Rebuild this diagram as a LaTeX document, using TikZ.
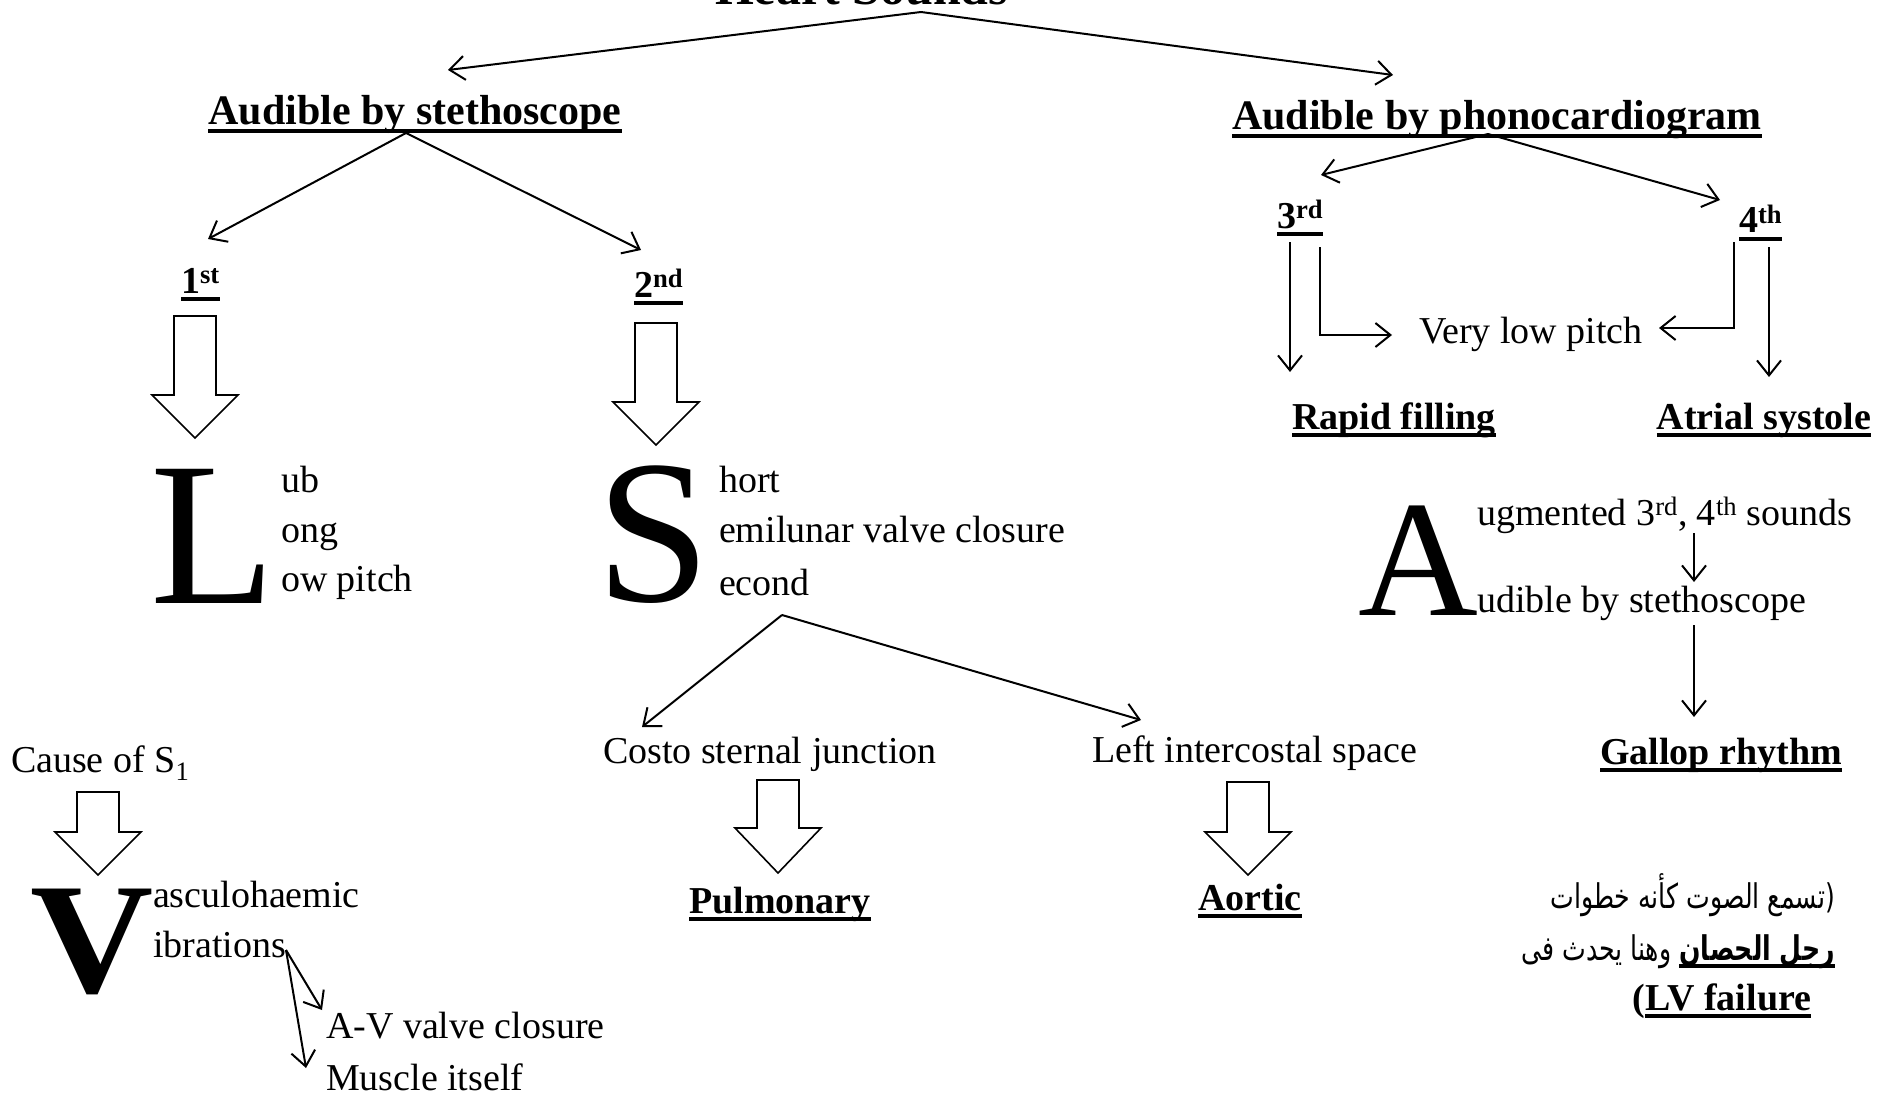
\documentclass[tikz,border=0pt]{standalone}
\usepackage{fontspec}
\setmainfont{Liberation Serif}
\newfontfamily\arabicfont[Script=Arabic, FakeStretch=0.74]{DejaVu Sans}
\TeXXeTstate=1
\usetikzlibrary{arrows.meta}

% underline drawn as a rule under a box
\newsavebox{\ulsave}
\newcommand{\ulbox}[1]{\sbox{\ulsave}{#1}\rlap{\rule[-8pt]{\wd\ulsave}{3.6pt}}\usebox{\ulsave}}

% hollow block arrow pointing down: x, shaft top, shoulder, tip
\newcommand{\hollowdown}[4]{%
  \draw[hollow] ({#1-21},#2) -- ({#1+21},#2) -- ({#1+21},#3) -- ({#1+43},#3)
    -- (#1,#4) -- ({#1-43},#3) -- ({#1-21},#3) -- cycle;}

\begin{document}
\begin{tikzpicture}[x=1pt, y=-1pt, >={Straight Barb[length=15pt, width=24pt]}, line width=2pt,
    txt/.style={inner sep=0pt, anchor=base west, font=\fontsize{38}{46}\selectfont},
    head/.style={inner sep=0pt, anchor=base, font=\fontsize{42}{50}\selectfont\bfseries},
    lbl/.style={inner sep=0pt, anchor=base, font=\fontsize{38}{46}\selectfont\bfseries},
    initial/.style={inner sep=0pt, anchor=base west, font=\fontsize{205}{205}\selectfont},
    arab/.style={inner sep=0pt, anchor=base east, font=\fontsize{34}{40}\arabicfont},
    hollow/.style={line width=1.6pt, line join=miter}]
    \useasboundingbox (0, 0) rectangle (1899, 1097);

    % TITLE
    \node (title) at (714, 5) [head, anchor=base west, font=\fontsize{50}{60}\selectfont\bfseries] {Heart Sounds};
    \coordinate (fork0) at (921, 12);
    \coordinate (in-steth) at (448, 70);
    \coordinate (in-phono) at (1393, 75);

    \node (steth) at (415, 125) [head] {\ulbox{Audible by stethoscope}};
    \node (phono) at (1497, 130) [head] {\ulbox{Audible by phonocardiogram}};

    \draw[->] (fork0) -- (in-steth);
    \draw[->] (fork0) -- (in-phono);

    % STETHOSCOPE: 1st AND 2nd
    \coordinate (fork1) at (406, 133);
    \coordinate (in-first) at (208, 239);
    \coordinate (in-second) at (641, 250);
    \node (first) at (180, 293) [lbl, anchor=base west] {\ulbox{1\textsuperscript{st}}};
    \node (second) at (633, 297) [lbl, anchor=base west] {\ulbox{2\textsuperscript{nd}}};
    \draw[->] (fork1) -- (in-first);
    \draw[->] (fork1) -- (in-second);

    \hollowdown{195}{316}{395}{438}
    \hollowdown{656}{323}{402}{445}

    % LUB
    \node (bigL) at (149, 603) [initial] {L};
    \node (lub) at (280, 492) [txt] {ub};
    \node (long) at (280, 542) [txt] {ong};
    \node (lowp) at (280, 591) [txt] {ow pitch};

    % SHORT
    \node (bigS) at (595, 601) [initial] {S};
    \node (short) at (718, 492) [txt] {hort};
    \node (semil) at (718, 542) [txt] {emilunar valve closure};
    \node (secnd) at (718, 595) [txt] {econd};

    % AREAS OF S2
    \coordinate (fork2) at (782, 615);
    \coordinate (in-costo) at (642, 727);
    \coordinate (in-left) at (1141, 720);
    \node (costo) at (602, 763) [txt] {Costo sternal junction};
    \node (leftic) at (1091, 762) [txt] {Left intercostal space};
    \draw[->] (fork2) -- (in-costo);
    \draw[->] (fork2) -- (in-left);

    \hollowdown{778}{780}{828}{873}
    \hollowdown{1248}{782}{832}{875}

    \node (pulm) at (780, 913) [lbl] {\ulbox{Pulmonary}};
    \node (aortic) at (1250, 910) [lbl] {\ulbox{Aortic}};

    % CAUSE OF S1
    \node (cause) at (10, 772) [txt] {Cause of S\textsubscript{1}};
    \hollowdown{98}{792}{832}{875}
    \node (bigV) at (29, 992) [initial, font=\fontsize{158}{158}\selectfont\bfseries] {\scalebox{1.08}[1]{V}};
    \node (vasc) at (152, 907) [txt] {asculohaemic};
    \node (vibr) at (152, 957) [txt] {ibrations};

    \coordinate (fork3) at (286, 950);
    \coordinate (in-av) at (322, 1010);
    \coordinate (in-musc) at (306, 1068);
    \node (avclos) at (325, 1038) [txt] {A-V valve closure};
    \node (muscle) at (325, 1090) [txt] {Muscle itself};
    \draw[->] (fork3) -- (in-av);
    \draw[->] (fork3) -- (in-musc);

    % PHONOCARDIOGRAM: 3rd AND 4th
    \coordinate (fork4) at (1488, 134);
    \coordinate (in-third) at (1321, 175);
    \coordinate (in-fourth) at (1720, 200);
    \node (third) at (1276, 228) [lbl, anchor=base west] {\ulbox{3\textsuperscript{rd}}};
    \node (fourth) at (1738, 233) [lbl, anchor=base west] {\ulbox{4\textsuperscript{th}}};
    \draw[->] (fork4) -- (in-third);
    \draw[->] (fork4) -- (in-fourth);

    \node (vlow) at (1418, 343) [txt] {Very low pitch};
    \node (rapid) at (1394, 429) [lbl] {\ulbox{Rapid filling}};
    \node (atrial) at (1764, 429) [lbl] {\ulbox{Atrial systole}};

    \coordinate (third-a) at (1290, 242);
    \coordinate (third-z) at (1290, 372);
    \coordinate (third-b) at (1320, 247);
    \coordinate (vlow-l) at (1392, 335);
    \coordinate (fourth-a) at (1734, 242);
    \coordinate (vlow-r) at (1659, 328);
    \coordinate (fourth-b) at (1769, 247);
    \coordinate (fourth-z) at (1769, 377);
    \draw[->] (third-a) -- (third-z);
    \draw[->] (third-b) |- (vlow-l);
    \draw[->] (fourth-a) |- (vlow-r);
    \draw[->] (fourth-b) -- (fourth-z);

    % GALLOP
    \node (bigA) at (1357, 615) [initial, font=\fontsize{166}{166}\selectfont] {A};
    \node (augm) at (1476, 525) [txt] {ugmented 3\textsuperscript{rd}, 4\textsuperscript{th} sounds};
    \node (audib) at (1476, 612) [txt] {udible by stethoscope};
    \node (gallop) at (1721, 764) [lbl] {\ulbox{Gallop rhythm}};
    \coordinate (augm-out) at (1694, 533);
    \coordinate (audib-in) at (1694, 582);
    \coordinate (audib-out) at (1694, 625);
    \coordinate (gallop-in) at (1694, 717);
    \draw[->] (augm-out) -- (audib-in);
    \draw[->] (audib-out) -- (gallop-in);

    \node (arab1) at (1836, 908) [arab] {\beginR(تسمع الصوت كأنه خطوات\endR};
    \node (arab2) at (1836, 960) [arab] {\beginR وهنا يحدث فى\endR\ {\bfseries\ulbox{\beginR رجل الحصان\endR}}};
    \node (lvfail) at (1722, 1010) [lbl] {(\ulbox{LV failure}};
\end{tikzpicture}
\end{document}
